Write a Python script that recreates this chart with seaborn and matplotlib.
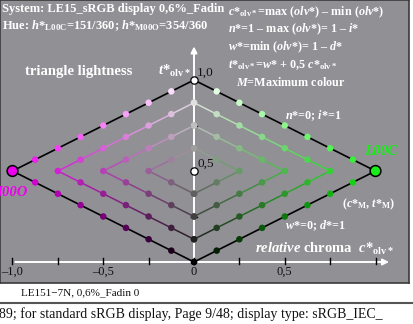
import matplotlib
matplotlib.use("Agg")
import matplotlib.pyplot as plt
import seaborn as sns
import pandas as pd

# chart values
chroma_steps = [0.0, 0.125, 0.25, 0.375, 0.5, 0.625, 0.75, 0.875, 1.0]
diamond_sizes = [1.0, 0.75, 0.5, 0.25]
side_colours = {-1: (0.93, 0.0, 0.93), 1: (0.1, 0.93, 0.1)}   # M00O left, L00C right
x_ticks = [-1.0, -0.75, -0.5, -0.25, 0.0, 0.25, 0.5, 0.75, 1.0]
x_ticklabels = {-1.0: "–1,0", -0.5: "–0,5", 0.0: "0", 0.5: "0,5"}
y_ticks = [0.25, 0.75]
y_ticklabels = {1.0: "1,0", 0.5: "0,5"}

bg = "#909095"
W, H = 413, 324

plt.rcParams["font.family"] = "Liberation Serif"
plt.rcParams["mathtext.fontset"] = "custom"
plt.rcParams["mathtext.rm"] = "Liberation Serif:bold"
plt.rcParams["mathtext.it"] = "Liberation Serif:italic:bold"
plt.rcParams["mathtext.bf"] = "Liberation Serif:bold"


def mix(c, t, hue):
    w = t - c / 2
    return tuple(min(1, max(0, w + c * h)) for h in hue)


# build points and chains of the nested diamonds
rows = []
chains = []
for side, hue in side_colours.items():
    for k in diamond_sizes:
        upper, lower = [], []
        for c in chroma_steps:
            if c > k + 1e-9:
                continue
            for t, chain in ((0.5 + (k - c) / 2, upper), (0.5 - (k - c) / 2, lower)):
                col = mix(c, t, hue)
                chain.append((side * c, t, col))
                rows.append({"x": side * c, "y": t, "id": f"{side}_{c}_{t}", "col": col})
        chains.append((k, upper))
        chains.append((k, lower))

df = pd.DataFrame(rows).drop_duplicates("id")

fig = plt.figure(figsize=(W / 100, H / 100), dpi=100)
ax = fig.add_axes([0, 1 - 283 / H, 409 / W, 283 / H])
ax.set_facecolor(bg)
ax.set_xlim((0 - 194) / 181.5, (409 - 194) / 181.5)
ax.set_ylim(-(283 - 262) / 182, 262 / 182)
ax.set_xticks([])
ax.set_yticks([])
for s in ax.spines.values():
    s.set_color("#3a3a3a")
    s.set_linewidth(1.2)

# chain lines
for k, chain in chains:
    for (x0, y0, c0), (x1, y1, c1) in zip(chain[:-1], chain[1:]):
        if k == 1.0:
            col, lw = "black", 1.2
        else:
            col = tuple((a + b) / 2 for a, b in zip(c0, c1))
            lw = 1.1
        ax.plot([x0, x1], [y0, y1], color=col, lw=lw, zorder=2)

# white axes with arrows
ax.annotate("", xy=(1.09, 0), xytext=(-1.0, 0),
            arrowprops=dict(arrowstyle="-|>", color="white", lw=1.4, mutation_scale=9), zorder=3)
ax.annotate("", xy=(0, 1.2), xytext=(0, 0),
            arrowprops=dict(arrowstyle="-|>", color="white", lw=1.4, mutation_scale=9), zorder=3)
for xt in x_ticks:
    ax.plot([xt, xt], [-0.012, 0.02], color="black", lw=1.0, zorder=4)
for yt in y_ticks:
    ax.plot([-0.015, 0.015], [yt, yt], color="black", lw=1.0, zorder=4)

# points
palette = dict(zip(df["id"], df["col"]))
sns.scatterplot(data=df, x="x", y="y", hue="id", palette=palette, s=22,
                linewidth=0, legend=False, ax=ax, zorder=5)
ends = df[(df["x"].abs() == 1.0)]
sns.scatterplot(data=ends, x="x", y="y", hue="id", palette=palette, s=60,
                edgecolor="black", linewidth=1.1, legend=False, ax=ax, zorder=6)
ax.scatter([0, 0], [1.0, 0.5], s=28, facecolor="white", edgecolor="black",
           linewidth=0.9, zorder=6)
ax.set_xlabel("")
ax.set_ylabel("")

# tick labels
for xt, lab in x_ticklabels.items():
    ax.text(xt, -0.055, lab, ha="center", va="center", fontsize=9, color="#111111")
for yt, lab in y_ticklabels.items():
    ax.text(0.018, yt + 0.005, lab, ha="left", va="bottom", fontsize=9.5, color="#111111")


def ft(px, py, s, **kw):
    kw.setdefault("color", "white")
    kw.setdefault("fontweight", "bold")
    kw.setdefault("va", "center")
    fig.text(px / W, 1 - py / H, s, **kw)


ft(2, 9, "System: LE15_sRGB display 0,6%_Fadin", fontsize=9)
ft(2, 26, r"Hue: $h$*$_{\mathrm{L00C}}$=151/360; $h$*$_{\mathrm{M00O}}$=354/360", fontsize=9)
ft(228, 12, r"$c$*$_{\mathrm{olv*}}$=max ($olv$*) – min ($olv$*)", fontsize=8.7)
ft(228, 29, r"$n$*=1 – max ($olv$*)= 1 – $i$*", fontsize=8.7)
ft(228, 47, r"$w$*=min ($olv$*)= 1 – $d$*", fontsize=8.7)
ft(228, 65, r"$t$*$_{\mathrm{olv*}}$=$w$* + 0,5 $c$*$_{\mathrm{olv*}}$", fontsize=8.7)
ft(236, 83, r"$M$=Maximum colour", fontsize=8.7)
ft(25, 71, "triangle lightness", fontsize=10.5)
ft(158, 71, r"$t$*$_{\mathrm{olv*}}$", fontsize=10.5)
ft(285, 116, r"$n$*=0; $i$*=1", fontsize=8.7)
ft(285, 226, r"$w$*=0; $d$*=1", fontsize=8.7)
ft(342, 204, r"($c$*$_{\mathrm{M}}$, $t$*$_{\mathrm{M}}$)", fontsize=8.7)
ft(255, 249, r"$relative$ chroma  $c$*$_{\mathrm{olv*}}$", fontsize=10.5)
ft(364, 151, "L00C", fontsize=10.5, style="italic", color=side_colours[1])
ft(28, 192, "M00O", fontsize=10.5, style="italic", color=side_colours[-1], ha="right")

# footer
ft(21, 293, "LE151−7N, 0,6%_Fadin 0", fontsize=8, color="#111111", fontweight="normal")
fig.add_artist(plt.Line2D([0, 1], [1 - 303 / H, 1 - 303 / H], color="#555555", lw=1.5))
ft(-1, 314, "89; for standard sRGB display, Page 9/48; display type: sRGB_IEC_",
   fontsize=10, color="#111111", fontweight="normal")

fig.savefig("out.png", dpi=100, facecolor="white")
